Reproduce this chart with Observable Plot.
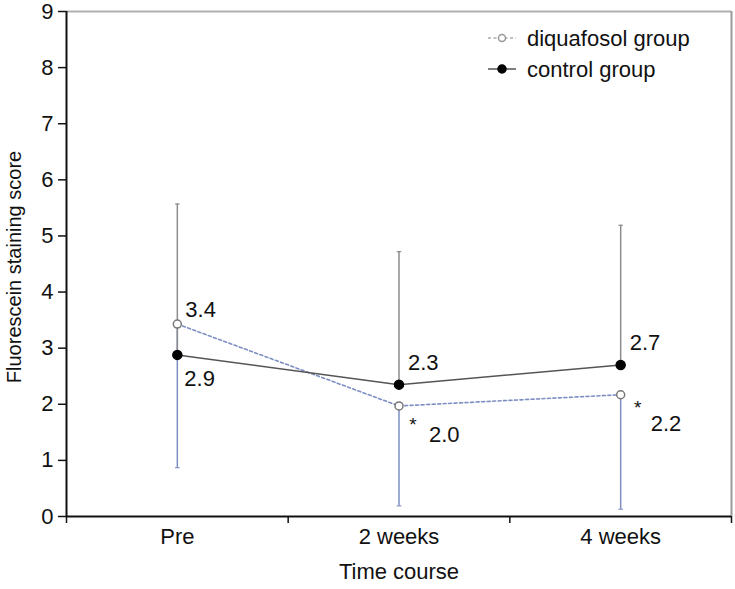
<!DOCTYPE html>
<html><head><meta charset="utf-8">
<script src="https://cdn.jsdelivr.net/npm/d3@7"></script>
<script src="https://cdn.jsdelivr.net/npm/@observablehq/plot@0.6"></script>
<style>
body{margin:0;background:#fff}
#chart svg{font-family:"Liberation Sans",Arial,sans-serif}
</style>
</head><body><div id="chart"></div>
<script>
const categories = ["Pre", "2 weeks", "4 weeks"];
const diquafosolMean = [3.43, 1.97, 2.17];
const diquafosolLower = [0.87, 0.19, 0.13];
const controlMean = [2.88, 2.35, 2.70];
const controlUpper = [5.57, 4.72, 5.19];
const diquafosolLabels = ["3.4", "2.0", "2.2"];
const controlLabels = ["2.9", "2.3", "2.7"];
const significance = ["", "*", "*"];
const yTicks = [0, 1, 2, 3, 4, 5, 6, 7, 8, 9];
const legendLabels = ["diquafosol group", "control group"];

const idx = categories.map((_, i) => i);
const xc = i => i + 0.5;
const blue = "#7d8ec2", gray = "#8c8c8c";

const capSymbol = {draw(ctx, size) { const r = Math.sqrt(size) / 2; ctx.moveTo(-r, 0); ctx.lineTo(r, 0); }};

// label placement: the higher series labelled above the point, the lower below
const labelRows = idx.flatMap(i => {
  const dqHigh = diquafosolMean[i] > controlMean[i];
  return [
    {i, y: diquafosolMean[i], text: diquafosolLabels[i], above: dqHigh, star: significance[i]},
    {i, y: controlMean[i], text: controlLabels[i], above: !dqHigh, star: ""}
  ];
});
const aboveFirst = labelRows.filter(d => d.above && d.i === 0);
const aboveRest = labelRows.filter(d => d.above && d.i !== 0);
const belowPlain = labelRows.filter(d => !d.above && !d.star);
const belowStar = labelRows.filter(d => !d.above && d.star);
const star2 = belowStar.filter(d => d.i === 1);
const star4 = belowStar.filter(d => d.i === 2);

const fs = 22;
const txt = (data, o) => Plot.text(data, {x: d => xc(d.i), y: "y", textAnchor: "start", fontSize: fs, fill: "#111", ...o});
const chart = Plot.plot({
  width: 735, height: 589,
  marginLeft: 66, marginRight: 4, marginTop: 11, marginBottom: 73,
  style: {fontSize: fs + "px", fontFamily: "'Liberation Sans', Arial, sans-serif", color: "#111", background: "#fff"},
  x: {domain: [0, 3]},
  y: {domain: [0, 9]},
  marks: [
    Plot.ruleY([9], {stroke: "#b0b0b0", strokeWidth: 2}),
    Plot.ruleX([3], {stroke: "#9a9a9a", strokeWidth: 2}),
    Plot.axisY({ticks: yTicks, tickSize: 8, tickPadding: 5, label: null, fontSize: fs, strokeWidth: 1.5}),
    Plot.axisX({ticks: [0, 1, 2, 3], tickFormat: () => "", tickSize: 7, label: null, strokeWidth: 1.5}),
    Plot.ruleX([0], {stroke: "#111", strokeWidth: 2}),
    Plot.ruleY([0], {stroke: "#111", strokeWidth: 2}),
    Plot.text(categories, {x: (d, i) => xc(i), frameAnchor: "bottom", dy: 27, fontSize: fs}),
    Plot.text(["Time course"], {frameAnchor: "bottom", dy: 62, fontSize: fs}),
    Plot.text(["Fluorescein staining score"], {frameAnchor: "left", textAnchor: "middle", dx: -52, dy: 3, rotate: -90, fontSize: 20}),
    // error bars
    Plot.ruleX(idx, {x: xc, y1: i => diquafosolMean[i], y2: i => diquafosolLower[i], stroke: blue, strokeWidth: 1.5}),
    Plot.ruleX(idx, {x: xc, y1: i => controlMean[i], y2: i => controlUpper[i], stroke: gray, strokeWidth: 1.5}),
    Plot.dot(idx, {x: xc, y: i => diquafosolLower[i], symbol: capSymbol, r: 2.5, stroke: blue, fill: "none", strokeWidth: 1.2}),
    Plot.dot(idx, {x: xc, y: i => controlUpper[i], symbol: capSymbol, r: 2.5, stroke: gray, fill: "none", strokeWidth: 1.2}),
    // lines
    Plot.line(idx, {x: xc, y: i => diquafosolMean[i], stroke: blue, strokeWidth: 1.6, strokeDasharray: "3,2.5"}),
    Plot.line(idx, {x: xc, y: i => controlMean[i], stroke: "#555", strokeWidth: 1.5}),
    Plot.dot(idx, {x: xc, y: i => controlMean[i], r: 4.5, fill: "#000", stroke: "#000"}),
    Plot.dot(idx, {x: xc, y: i => diquafosolMean[i], r: 4, fill: "#fff", stroke: "#777", strokeWidth: 1.5}),
    // value labels
    txt(aboveFirst, {text: "text", dx: 8, dy: -14}),
    txt(aboveRest, {text: "text", dx: 9, dy: -22}),
    txt(belowPlain, {text: "text", dx: 7, dy: 24}),
    txt(belowStar, {text: "text", dx: 30, dy: 29}),
    txt(star2, {text: "star", textAnchor: "middle", dx: 14, dy: 19, fontSize: 19}),
    txt(star4, {text: "star", textAnchor: "middle", dx: 17, dy: 13, fontSize: 19})
  ]
});
document.getElementById("chart").appendChild(chart);

// legend inside the plot area, top right
const svg = d3.select(chart);
const g = svg.append("g").attr("text-anchor", "start");
const rows = [
  {label: legendLabels[0], y: 38, dash: "3,2.5", lineColor: "#aaa", fill: "#fff", stroke: "#999", r: 3.5},
  {label: legendLabels[1], y: 69, dash: null, lineColor: "#555", fill: "#000", stroke: "#000", r: 4}
];
rows.forEach(r => {
  g.append("line").attr("x1", 488).attr("x2", 516).attr("y1", r.y).attr("y2", r.y)
    .attr("stroke", r.lineColor).attr("stroke-width", 1.5).attr("stroke-dasharray", r.dash);
  g.append("circle").attr("cx", 502).attr("cy", r.y).attr("r", r.r)
    .attr("fill", r.fill).attr("stroke", r.stroke).attr("stroke-width", 1.5);
  g.append("text").attr("x", 527).attr("y", r.y).attr("dy", "0.35em")
    .attr("font-size", fs).attr("fill", "#111").text(r.label);
});
</script>
</body></html>
